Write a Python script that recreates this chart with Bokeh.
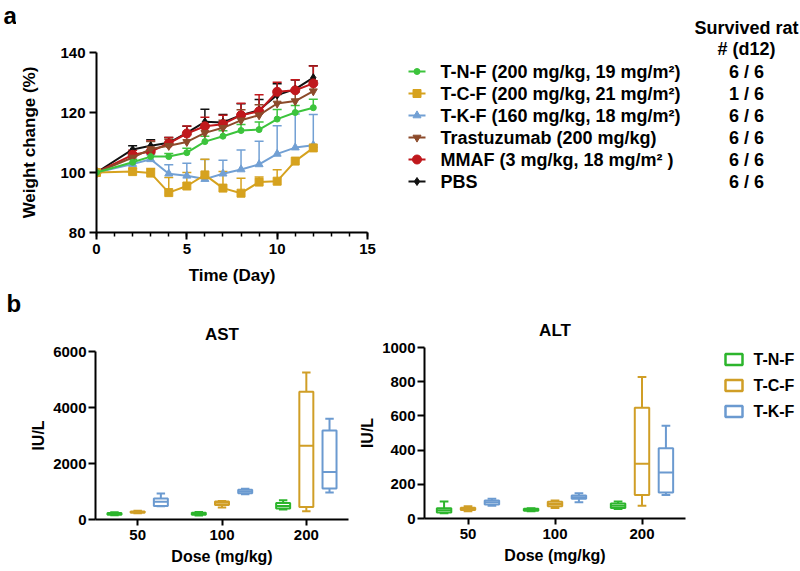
from bokeh.plotting import figure
from bokeh.layouts import column, row
from bokeh.models import (Whisker, ColumnDataSource, FactorRange, FixedTicker, TeeHead)
from bokeh.core.properties import value
from bokeh.transform import dodge
from bokeh.embed import file_html
from bokeh.resources import INLINE

FONT = "Liberation Sans"

# ---------------- panel a data ----------------
days = [0, 2, 3, 4, 5, 6, 7, 8, 9, 10, 11, 12]

series = ["T-N-F (200 mg/kg,  19 mg/m\u00b2)",
          "T-C-F (200 mg/kg,  21 mg/m\u00b2)",
          "T-K-F (160 mg/kg,  18 mg/m\u00b2)",
          "Trastuzumab (200 mg/kg)",
          "MMAF (3 mg/kg, 18 mg/m\u00b2 )",
          "PBS"]
survived = ["6 / 6", "1 / 6", "6 / 6", "6 / 6", "6 / 6", "6 / 6"]

tnf_mean = [100, 103.4, 105.3, 105.3, 106.6, 110.3, 112.1, 114.0, 114.3, 117.8, 120.0, 121.6]
tnf_sd = [0, 1.0, 1.2, 1.0, 1.5, 1.8, 1.8, 2.0, 2.5, 3.2, 2.3, 2.8]
tcf_mean = [100, 100.3, 99.8, 93.3, 95.5, 99.2, 94.8, 93.1, 96.8, 97.1, 103.8, 108.2]
tcf_sd = [0, 1.0, 1.5, 5.0, 4.5, 5.2, 5.5, 5.0, 1.7, 3.8, 0, 0]
tkf_mean = [100, 102.8, 104.4, 99.6, 98.9, 97.8, 99.6, 101.0, 102.7, 106.2, 108.3, 109.1]
tkf_sd = [0, 1.5, 1.5, 3.0, 4.2, 6.5, 4.5, 6.5, 7.7, 9.4, 11.2, 10.2]
tras_mean = [100, 105.0, 107.8, 108.9, 110.2, 113.2, 114.9, 117.4, 119.1, 123.0, 123.8, 127.1]
tras_sd = [0, 1.5, 2.5, 2.2, 2.5, 2.5, 2.5, 3.5, 3.5, 3.0, 3.0, 3.5]
mmaf_mean = [100, 105.9, 107.0, 109.7, 113.0, 115.4, 116.1, 119.1, 120.4, 126.9, 127.4, 129.7]
mmaf_sd = [0, 1.5, 3.5, 2.0, 2.5, 3.0, 3.0, 4.0, 5.5, 3.2, 3.5, 5.8]
pbs_mean = [100, 107.7, 108.9, 109.9, 113.2, 116.9, 116.7, 119.1, 120.8, 125.8, 127.8, 131.6]
pbs_sd = [0, 1.2, 2.0, 1.8, 2.2, 4.2, 2.6, 3.8, 3.5, 3.8, 3.0, 4.0]

# ---------------- panel b data ----------------
doses = ["50", "100", "200"]
groups = ["T-N-F", "T-C-F", "T-K-F"]

ast_lo = {"T-N-F": [150, 140, 356], "T-C-F": [220, 430, 295], "T-K-F": [470, 900, 961]}
ast_q1 = {"T-N-F": [170, 170, 391], "T-C-F": [240, 520, 448], "T-K-F": [480, 940, 1103]}
ast_med = {"T-N-F": [200, 200, 484], "T-C-F": [270, 600, 2633], "T-K-F": [630, 1000, 1694]}
ast_q3 = {"T-N-F": [230, 240, 591], "T-C-F": [290, 640, 4566], "T-K-F": [750, 1060, 3178]}
ast_hi = {"T-N-F": [260, 270, 687], "T-C-F": [310, 660, 5253], "T-K-F": [925, 1100, 3594]}

alt_lo = {"T-N-F": [30, 42, 55], "T-C-F": [42, 62, 74], "T-K-F": [75, 95, 138]}
alt_q1 = {"T-N-F": [35, 46, 62], "T-C-F": [50, 72, 138], "T-K-F": [82, 115, 152]}
alt_med = {"T-N-F": [48, 52, 75], "T-C-F": [55, 85, 320], "T-K-F": [95, 125, 269]}
alt_q3 = {"T-N-F": [60, 57, 88], "T-C-F": [63, 98, 647], "T-K-F": [105, 135, 411]}
alt_hi = {"T-N-F": [100, 60, 100], "T-C-F": [72, 105, 828], "T-K-F": [115, 148, 542]}

# ---------------- styles ----------------
GREEN = "#3cc43c"
GOLD = "#d6a21e"
BLUE = "#72a0d4"
BROWN = "#8c4a2a"
RED = "#c0181c"
BLACK = "#111111"
BOX_COLORS = {"T-N-F": "#2cb52c", "T-C-F": "#d09e26", "T-K-F": "#6b9ad0"}
OFFSETS = {"T-N-F": -0.275, "T-C-F": 0.0, "T-K-F": 0.275}

# per-series style, in legend order
s_colors = [GREEN, GOLD, BLUE, BROWN, RED, BLACK]
s_markers = ["circle", "square", "triangle", "inverted_triangle", "circle", "diamond"]
s_sizes = [6, 8, 8, 8, 9, 8]
s_means = [tnf_mean, tcf_mean, tkf_mean, tras_mean, mmaf_mean, pbs_mean]
s_sds = [tnf_sd, tcf_sd, tkf_sd, tras_sd, mmaf_sd, pbs_sd]


def style_axis(ax, tick_size="15px", label_size="17px"):
    ax.axis_line_width = 2
    ax.axis_line_color = "black"
    ax.major_tick_line_width = 2
    ax.major_tick_line_color = "black"
    ax.major_tick_in = 0
    ax.major_tick_out = 7
    ax.minor_tick_in = 0
    ax.minor_tick_out = 4
    ax.minor_tick_line_width = 1.5
    ax.minor_tick_line_color = "black"
    ax.major_label_text_font = FONT
    ax.major_label_text_font_style = "bold"
    ax.major_label_text_font_size = tick_size
    ax.major_label_text_color = "black"
    ax.axis_label_text_font = FONT
    ax.axis_label_text_font_style = "bold"
    ax.axis_label_text_font_size = label_size
    ax.axis_label_text_color = "black"


def blank(width, height):
    b = figure(width=width, height=height, x_range=(0, width), y_range=(0, height),
               output_backend="svg", toolbar_location=None,
               x_axis_location=None, y_axis_location=None,
               min_border=0, min_border_left=0, min_border_right=0,
               min_border_top=0, min_border_bottom=0, frame_align=False)
    b.outline_line_color = None
    b.grid.visible = False
    return b


def put_text(b, xs, ys, texts, size, align="left", baseline="middle"):
    b.text(x=xs, y=ys, text=texts, text_font=value(FONT), text_font_style="bold",
           text_font_size=value(size), text_color="black",
           text_align=align, text_baseline=baseline)


TOP_H = 288
BOT_H = 282

# ---------------- panel a ----------------
spA = blank(16, TOP_H)
put_text(spA, [3], [273], ["a"], "24px", baseline="alphabetic")

pa = figure(width=363, height=TOP_H, x_range=(0, 15), y_range=(80, 140),
            output_backend="svg", toolbar_location=None, frame_align=False,
            min_border_left=80, min_border_right=12,
            min_border_top=52, min_border_bottom=56)
pa.outline_line_color = None
pa.grid.visible = False
pa.xaxis.ticker = FixedTicker(ticks=[0, 5, 10, 15], minor_ticks=list(range(16)))
pa.yaxis.ticker = FixedTicker(ticks=[80, 100, 120, 140], minor_ticks=[])
style_axis(pa.xaxis[0])
style_axis(pa.yaxis[0])
pa.yaxis.minor_tick_line_color = None
pa.xaxis.axis_label = "Time (Day)"
pa.yaxis.axis_label = "Weight change (%)"
pa.xaxis.major_label_standoff = 4
pa.xaxis.axis_label_standoff = 9
pa.yaxis.major_label_standoff = 4
pa.yaxis.axis_label_standoff = 18

for i in [5, 4, 3, 2, 1, 0]:
    mean, sd, color = s_means[i], s_sds[i], s_colors[i]
    xs = [d for d, s in zip(days, sd) if s > 0]
    lo = [m for m, s in zip(mean, sd) if s > 0]
    up = [m + s for m, s in zip(mean, sd) if s > 0]
    src = ColumnDataSource(dict(x=xs, lower=lo, upper=up))
    pa.add_layout(Whisker(base="x", lower="lower", upper="upper", source=src,
                          line_color=color, line_width=1.5, level="underlay",
                          upper_head=TeeHead(size=9, line_color=color, line_width=1.5),
                          lower_head=None))
    pa.line(days, mean, line_color=color, line_width=2)
    pa.scatter(days, mean, marker=s_markers[i], size=s_sizes[i],
               fill_color=color, line_color=color)

# legend + survival column (drawn in its own panel, 1 unit = 1 px)
legA = blank(421, TOP_H)
row_y = [217, 195, 173, 151, 129, 107]
lsrc = ColumnDataSource(dict(y=row_y, color=s_colors, marker=s_markers, size=s_sizes,
                             x0=[29] * 6, x1=[46] * 6, xm=[37.5] * 6))
legA.segment(x0="x0", y0="y", x1="x1", y1="y", line_color="color", line_width=2, source=lsrc)
legA.scatter(x="xm", y="y", marker="marker", size="size", fill_color="color",
             line_color="color", source=lsrc)
put_text(legA, [61] * 6, row_y, series, "18px")
put_text(legA, [367, 367], [261, 240], ["Survived rat", "# (d12)"], "18px", align="center")
put_text(legA, [367] * 6, row_y, survived, "18px", align="center")


# ---------------- panel b ----------------
def box_panel(title, lo_d, q1_d, med_d, q3_d, hi_d, ymax, ticks, width, bl, br, bt, bb):
    p = figure(width=width, height=BOT_H, x_range=FactorRange(factors=doses, range_padding=0),
               y_range=(0, ymax), output_backend="svg", toolbar_location=None,
               frame_align=False,
               min_border_left=bl, min_border_right=br, min_border_top=bt,
               min_border_bottom=bb, title=title)
    p.outline_line_color = None
    p.grid.visible = False
    p.title.align = "center"
    p.title.text_font = FONT
    p.title.text_font_style = "bold"
    p.title.text_font_size = "17px"
    p.title.text_color = "black"
    p.title.standoff = 15
    style_axis(p.xaxis[0], "15px", "16px")
    style_axis(p.yaxis[0], "15px", "16px")
    p.xaxis.major_tick_out = 6
    p.yaxis.ticker = FixedTicker(ticks=ticks, minor_ticks=[])
    p.yaxis.minor_tick_line_color = None
    p.xaxis.axis_label = "Dose (mg/kg)"
    p.yaxis.axis_label = "IU/L"
    p.xaxis.major_label_standoff = 4
    p.xaxis.axis_label_standoff = 5
    p.yaxis.major_label_standoff = 2
    p.yaxis.axis_label_standoff = 3
    for g in groups:
        c = BOX_COLORS[g]
        off = OFFSETS[g]
        src = ColumnDataSource(dict(dose=doses, lo=lo_d[g], q1=q1_d[g], med=med_d[g],
                                    q3=q3_d[g], hi=hi_d[g]))
        xc = dodge("dose", off, range=p.x_range)
        xl = dodge("dose", off - 0.05, range=p.x_range)
        xr = dodge("dose", off + 0.05, range=p.x_range)
        ml = dodge("dose", off - 0.083, range=p.x_range)
        mr = dodge("dose", off + 0.083, range=p.x_range)
        p.segment(x0=xc, y0="lo", x1=xc, y1="q1", source=src, line_color=c, line_width=2)
        p.segment(x0=xc, y0="q3", x1=xc, y1="hi", source=src, line_color=c, line_width=2)
        p.segment(x0=xl, y0="lo", x1=xr, y1="lo", source=src, line_color=c, line_width=2)
        p.segment(x0=xl, y0="hi", x1=xr, y1="hi", source=src, line_color=c, line_width=2)
        p.vbar(x=xc, width=0.166, bottom="q1", top="q3", source=src,
               fill_color="white", line_color=c, line_width=2)
        p.segment(x0=ml, y0="med", x1=mr, y1="med", source=src, line_color=c, line_width=2)
    return p


spB = blank(23, BOT_H)
put_text(spB, [6], [281], ["b"], "24px", baseline="top")

pb1 = box_panel("AST", ast_lo, ast_q1, ast_med, ast_q3, ast_hi, 6000,
                [0, 2000, 4000, 6000], 333, 72, 8, 63, 51)
pb2 = box_panel("ALT", alt_lo, alt_q1, alt_med, alt_q3, alt_hi, 1000,
                [0, 200, 400, 600, 800, 1000], 339, 66, 10, 59, 52)

legB = blank(105, BOT_H)
box_y = [211, 185, 159]
bsrc = ColumnDataSource(dict(y=box_y, color=[BOX_COLORS[g] for g in groups],
                             x=[38.5] * 3))
legB.rect(x="x", y="y", width=17, height=11, fill_color="white", line_color="color",
          line_width=2.5, source=bsrc)
put_text(legB, [58] * 3, box_y, groups, "16px")

layout = column(row(spA, pa, legA), row(spB, pb1, pb2, legB))
open("out.html", "w").write(file_html(layout, INLINE))
